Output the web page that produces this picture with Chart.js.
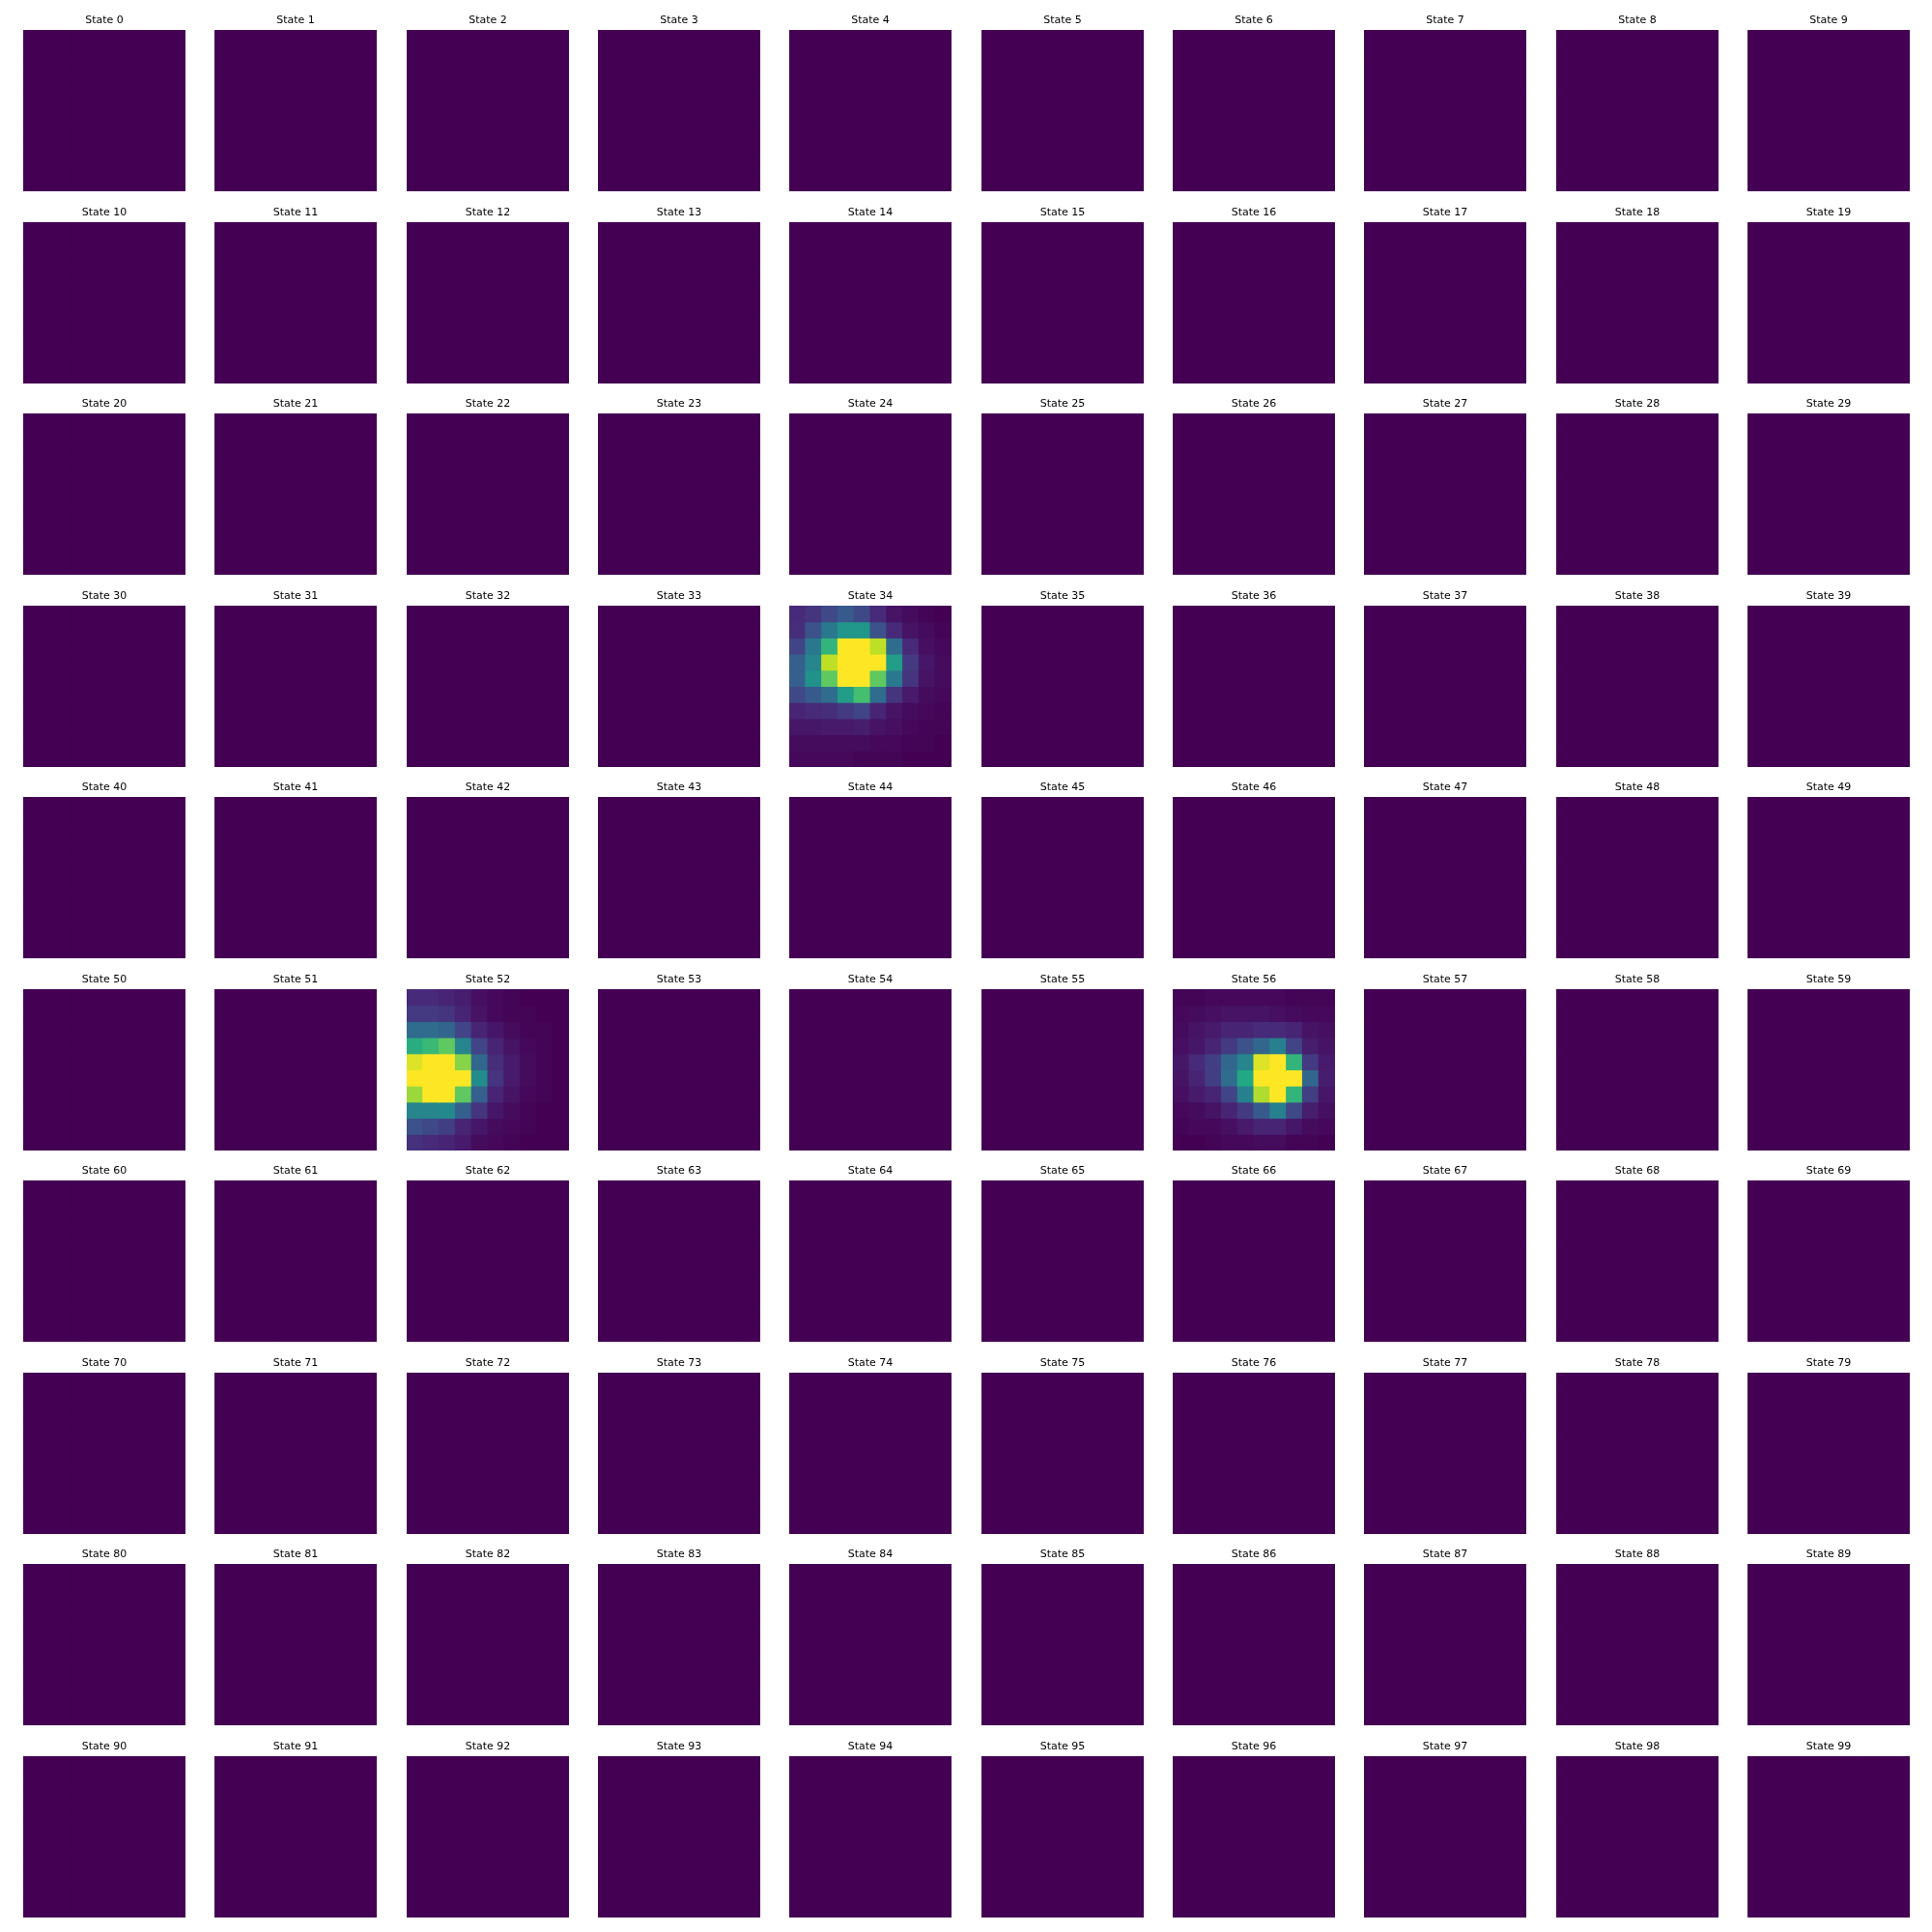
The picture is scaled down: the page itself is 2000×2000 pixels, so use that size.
<!DOCTYPE html>
<html>
<head>
<meta charset="utf-8">
<script src="https://cdn.jsdelivr.net/npm/chart.js@4/dist/chart.umd.min.js"></script>
<style>
  html, body { margin: 0; padding: 0; background: #ffffff; }
  #root { position: relative; width: 2000px; height: 2000px; background: #ffffff; }
  .panel { position: absolute; }
</style>
</head>
<body>
<div id="root"></div>
<script>
// ---- data (rows top to bottom, columns left to right) ----
const stateCount = 100;
const gridCols = [0, 1, 2, 3, 4, 5, 6, 7, 8, 9];

const state34 = [
  [0.12, 0.15, 0.22, 0.28, 0.22, 0.12, 0.05, 0.03, 0.01, 0.00],
  [0.13, 0.25, 0.40, 0.52, 0.52, 0.25, 0.12, 0.05, 0.03, 0.01],
  [0.20, 0.40, 0.65, 1.00, 1.00, 0.90, 0.35, 0.12, 0.04, 0.02],
  [0.30, 0.45, 0.90, 1.00, 1.00, 1.00, 0.55, 0.17, 0.06, 0.03],
  [0.30, 0.50, 0.75, 1.00, 1.00, 0.75, 0.40, 0.15, 0.05, 0.03],
  [0.22, 0.28, 0.35, 0.55, 0.70, 0.35, 0.15, 0.07, 0.03, 0.02],
  [0.10, 0.12, 0.13, 0.17, 0.20, 0.10, 0.05, 0.03, 0.02, 0.01],
  [0.06, 0.06, 0.07, 0.07, 0.08, 0.05, 0.04, 0.02, 0.01, 0.01],
  [0.03, 0.03, 0.03, 0.03, 0.03, 0.02, 0.02, 0.01, 0.01, 0.00],
  [0.02, 0.02, 0.02, 0.02, 0.01, 0.01, 0.01, 0.00, 0.00, 0.00]
];

const state52 = [
  [0.12, 0.12, 0.10, 0.08, 0.04, 0.02, 0.01, 0.00, 0.00, 0.00],
  [0.17, 0.17, 0.15, 0.10, 0.05, 0.02, 0.01, 0.01, 0.00, 0.00],
  [0.35, 0.35, 0.32, 0.20, 0.10, 0.06, 0.03, 0.01, 0.01, 0.00],
  [0.62, 0.67, 0.75, 0.45, 0.20, 0.10, 0.05, 0.02, 0.01, 0.00],
  [0.95, 1.00, 1.00, 0.82, 0.33, 0.13, 0.07, 0.03, 0.01, 0.00],
  [1.00, 1.00, 1.00, 1.00, 0.48, 0.15, 0.07, 0.03, 0.01, 0.00],
  [0.85, 1.00, 1.00, 0.75, 0.30, 0.10, 0.05, 0.02, 0.01, 0.00],
  [0.45, 0.45, 0.47, 0.30, 0.15, 0.06, 0.03, 0.01, 0.00, 0.00],
  [0.25, 0.22, 0.18, 0.10, 0.06, 0.03, 0.02, 0.01, 0.00, 0.00],
  [0.14, 0.12, 0.10, 0.07, 0.03, 0.02, 0.01, 0.00, 0.00, 0.00]
];

const state56 = [
  [0.01, 0.01, 0.02, 0.02, 0.02, 0.02, 0.02, 0.01, 0.01, 0.01],
  [0.02, 0.03, 0.04, 0.05, 0.05, 0.05, 0.04, 0.03, 0.02, 0.02],
  [0.03, 0.05, 0.07, 0.10, 0.10, 0.12, 0.12, 0.10, 0.05, 0.04],
  [0.04, 0.06, 0.10, 0.17, 0.25, 0.33, 0.43, 0.20, 0.08, 0.05],
  [0.06, 0.12, 0.18, 0.33, 0.45, 0.95, 1.00, 0.65, 0.17, 0.07],
  [0.05, 0.10, 0.18, 0.35, 0.60, 1.00, 1.00, 1.00, 0.33, 0.08],
  [0.04, 0.07, 0.10, 0.20, 0.43, 0.88, 1.00, 0.65, 0.18, 0.06],
  [0.02, 0.03, 0.05, 0.10, 0.17, 0.28, 0.43, 0.22, 0.08, 0.04],
  [0.01, 0.02, 0.02, 0.04, 0.07, 0.10, 0.10, 0.06, 0.03, 0.02],
  [0.00, 0.00, 0.01, 0.02, 0.02, 0.03, 0.03, 0.01, 0.01, 0.00]
];

const activeStates = { 34: state34, 52: state52, 56: state56 };
const zeroGrid = gridCols.map(() => gridCols.map(() => 0));

// ---- viridis colormap ----
const viridisStops = [
  [0x44, 0x01, 0x54], [0x48, 0x24, 0x75], [0x41, 0x44, 0x87], [0x35, 0x5f, 0x8d],
  [0x2a, 0x78, 0x8e], [0x21, 0x91, 0x8c], [0x22, 0xa8, 0x84], [0x44, 0xbf, 0x70],
  [0x7a, 0xd1, 0x51], [0xbd, 0xdf, 0x26], [0xfd, 0xe7, 0x25]
];
function viridis(t) {
  t = Math.max(0, Math.min(1, t));
  const p = t * (viridisStops.length - 1);
  const i = Math.min(Math.floor(p), viridisStops.length - 2);
  const f = p - i;
  const a = viridisStops[i], b = viridisStops[i + 1];
  const c = a.map((v, k) => Math.round(v + (b[k] - v) * f));
  return 'rgb(' + c.join(',') + ')';
}

// ---- layout ----
const root = document.getElementById('root');
const panelW = 168, panelH = 167, titleH = 24;
const x0 = 24, y0 = 31, dx = 198.33, dy = 198.56;

for (let s = 0; s < stateCount; s++) {
  const grid = activeStates[s] || zeroGrid;
  let mn = Infinity, mx = -Infinity;
  grid.forEach(r => r.forEach(v => { mn = Math.min(mn, v); mx = Math.max(mx, v); }));
  const norm = v => (mx > mn ? (v - mn) / (mx - mn) : 0);

  const row = Math.floor(s / 10), col = s % 10;
  const div = document.createElement('div');
  div.className = 'panel';
  div.style.left = Math.round(x0 + col * dx) + 'px';
  div.style.top = Math.round(y0 + row * dy - titleH) + 'px';
  div.style.width = panelW + 'px';
  div.style.height = (panelH + titleH) + 'px';
  const canvas = document.createElement('canvas');
  canvas.width = panelW;
  canvas.height = panelH + titleH;
  canvas.style.width = panelW + 'px';
  canvas.style.height = (panelH + titleH) + 'px';
  div.appendChild(canvas);
  root.appendChild(div);

  const datasets = grid.map((r, ri) => ({
    label: 'row ' + ri,
    data: gridCols.map(() => 1),
    backgroundColor: r.map(v => viridis(norm(v))),
    borderWidth: 0,
    barPercentage: 1.0,
    categoryPercentage: 1.0,
    inflateAmount: 0.5
  }));

  new Chart(canvas, {
    type: 'bar',
    data: { labels: gridCols.map(String), datasets },
    options: {
      responsive: false,
      animation: false,
      devicePixelRatio: 1,
      layout: { padding: 0 },
      plugins: {
        legend: { display: false },
        tooltip: { enabled: false },
        title: {
          display: true,
          text: 'State ' + s,
          color: '#000000',
          font: { family: 'DejaVu Sans', size: 11, weight: 'normal', lineHeight: 1.2 },
          padding: { top: 7.5, bottom: 3.3 }
        }
      },
      scales: {
        x: { type: 'category', stacked: true, display: false, offset: true, grid: { display: false } },
        y: { type: 'linear', stacked: true, display: false, min: 0, max: 10, reverse: true, grid: { display: false } }
      }
    }
  });
}
</script>
</body>
</html>
